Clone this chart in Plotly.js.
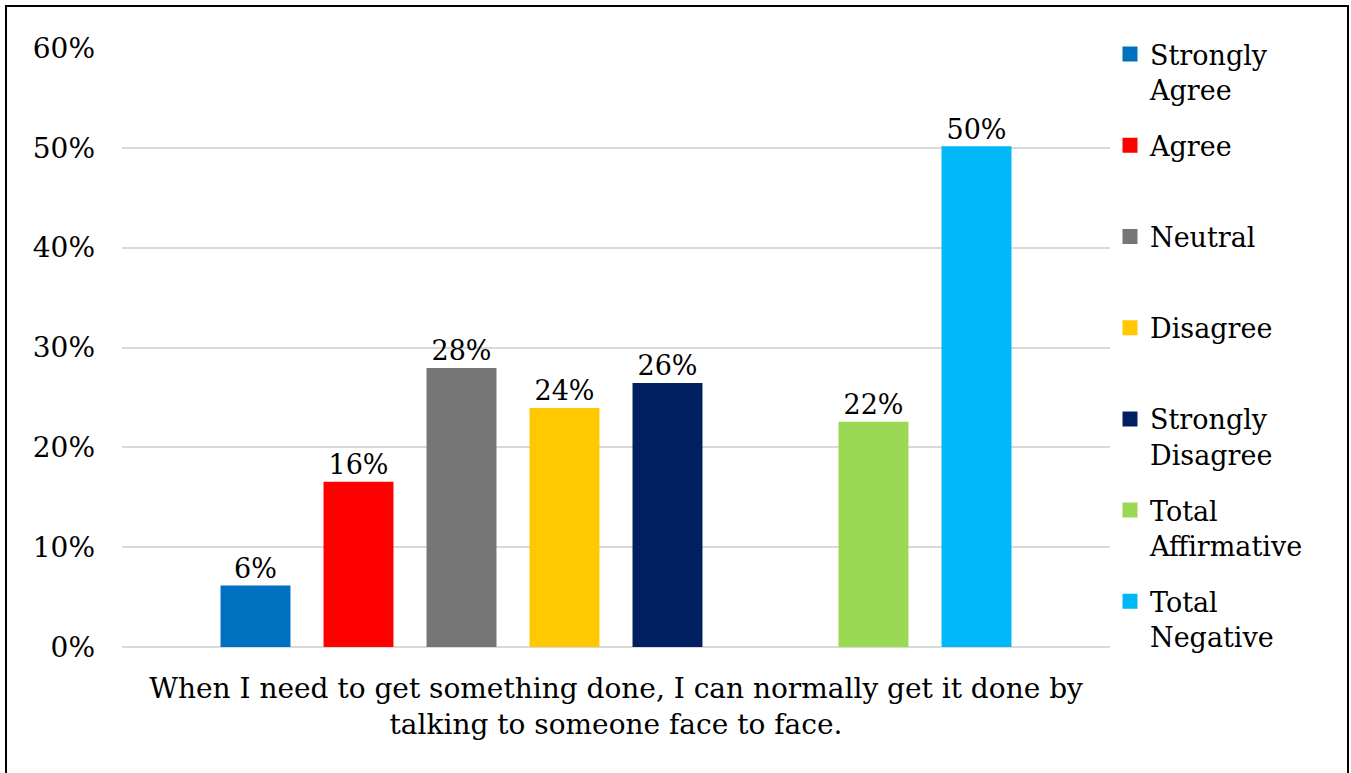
<!DOCTYPE html>
<html>
<head>
<meta charset="utf-8">
<script src="https://cdn.plot.ly/plotly-3.0.1.min.js"></script>
<style>
  html, body { margin: 0; padding: 0; background: #fff; overflow: hidden; }
  #wrap { position: relative; width: 1351px; height: 773px; }
  #chart { position: absolute; left: 0; top: 0; width: 1351px; height: 773px; }
  #frame { position: absolute; left: 5px; top: 5px; width: 1344px; height: 800px;
           border: 2.5px solid #000; pointer-events: none; box-sizing: border-box; }
</style>
</head>
<body>
<div id="wrap">
  <div id="chart"></div>
  <div id="frame"></div>
</div>
<script>
const category = ["When I need to get something done, I can normally get it done by<br>talking to someone face to face."];
const seriesNames = ["Strongly<br>Agree", "Agree<br>\u00a0", "Neutral<br>\u00a0", "Disagree<br>\u00a0", "Strongly<br>Disagree", "Total<br>Affirmative", "Total<br>Negative"];
const seriesValues = [0.060, 0.164, 0.278, 0.238, 0.263, 0.224, 0.500];
const seriesColors = ["#0070C0", "#FF0000", "#767676", "#FFC800", "#002060", "#9BD854", "#00B8F8"];
const yTickVals = [0, 0.1, 0.2, 0.3, 0.4, 0.5, 0.6];

const FONT = "DejaVu Serif, Liberation Serif, serif";

const traces = [];
seriesNames.forEach((name, i) => {
  if (i === 5) {
    // empty slot separating the two groups
    traces.push({
      type: "bar", x: category, y: [null], showlegend: false,
      hoverinfo: "skip", marker: { color: "rgba(0,0,0,0)" }
    });
  }
  traces.push({
    type: "bar",
    name: name,
    x: category,
    y: [seriesValues[i]],
    legendgroup: "g" + i,
    marker: { color: seriesColors[i], line: { color: seriesColors[i], width: 3 } },
    texttemplate: "%{y:.0%}",
    textposition: "outside",
    textfont: { family: FONT, size: 27, color: "#000" },
    cliponaxis: false
  });
});

const layout = {
  width: 1351, height: 773,
  margin: { l: 122, r: 241, t: 48, b: 126 },
  paper_bgcolor: "#fff", plot_bgcolor: "#fff",
  font: { family: FONT, size: 27, color: "#000" },
  barmode: "group",
  bargap: 0.166,
  bargroupgap: 0.35,
  showlegend: true,
  legend: {
    x: 1.0, xanchor: "left", y: 1.03, yanchor: "top",
    traceorder: "grouped", tracegroupgap: 18,
    maxheight: 760,
    font: { family: FONT, size: 27, color: "#000" },
    valign: "top", bgcolor: "rgba(0,0,0,0)"
  },
  xaxis: {
    type: "category",
    showgrid: false, zeroline: false, showline: false, ticks: "",
    tickfont: { family: FONT, size: 28, color: "#000" },
    ticklabelstandoff: 22
  },
  yaxis: {
    range: [0, 0.6],
    tickvals: yTickVals,
    tickformat: ".0%",
    showgrid: true, gridcolor: "#d9d9d9", gridwidth: 2,
    zeroline: true, zerolinecolor: "#d9d9d9", zerolinewidth: 2,
    showline: false, ticks: "",
    tickfont: { family: FONT, size: 28, color: "#000" },
    ticklabelstandoff: 26
  }
};

Plotly.newPlot("chart", traces, layout, { displayModeBar: false, staticPlot: true });
</script>
</body>
</html>
